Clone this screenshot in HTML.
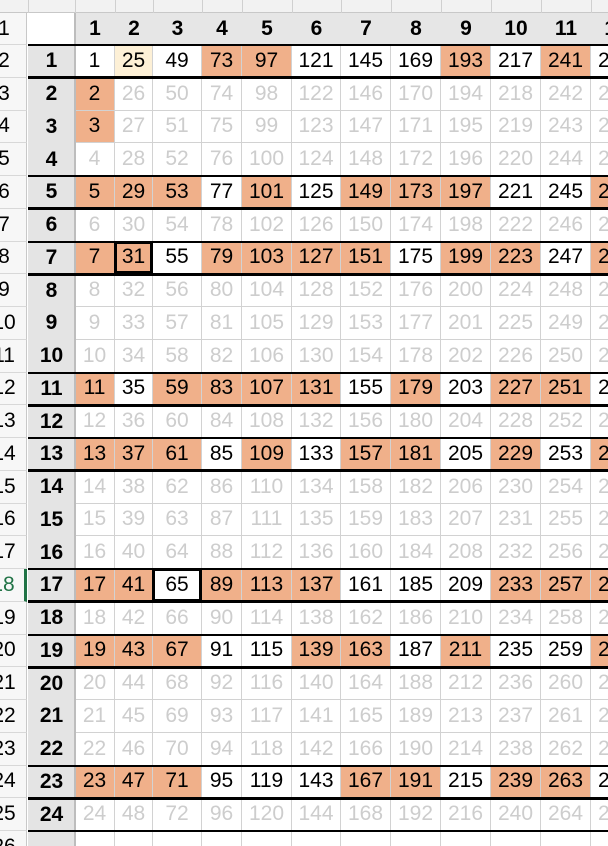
<!DOCTYPE html>
<html><head><meta charset="utf-8"><style>
body{margin:0;width:608px;height:846px;overflow:hidden;background:#fff;font-family:"Liberation Sans",sans-serif}
#sheet{position:relative;width:608px;height:846px;overflow:hidden}
.c{position:absolute;box-sizing:border-box;display:flex;align-items:center;justify-content:center;font-size:21px;white-space:nowrap}
.h{position:absolute;background:#000}
</style></head><body>
<div id="sheet"></div>
<script>
const colLabels=[1,2,3,4,5,6,7,8,9,10,11,12];
const rowLabels=[1,2,3,4,5,6,7,8,9,10,11,12,13,14,15,16,17,18,19,20,21,22,23,24];
const boldRows=[1,5,7,11,13,17,19,23];
const colEdges=[75,115,153,202,242,292,341,391,441,491,541,591,641];
const RH=32.75,TOP=45;
const S=document.getElementById('sheet');
function mk(cls,x,y,w,h,txt,st){const d=document.createElement('div');d.className=cls;d.style.left=x+'px';d.style.top=y+'px';d.style.width=w+'px';d.style.height=h+'px';if(txt!==undefined)d.textContent=txt;if(st)Object.assign(d.style,st);S.appendChild(d);return d;}
function isPrime(n){if(n<2)return false;for(let i=2;i*i<=n;i++)if(n%i==0)return false;return true;}
let strip=mk('c',0,0,608,13,undefined,{background:'#f2f2f2',borderBottom:'1px solid #c8c8c8'});


[28,75].concat(colEdges).forEach(x=>mk('h',x,0,1,13,undefined,{background:'#d0d0d0'}));
for(let r=0;r<=25;r++){const y=r==0?13:TOP+(r-1)*RH;const h=r==0?32:RH;
 const d=mk('c',-18,y,45,h,String(r+1),{background:'#f7f7f7',borderBottom:'1px solid #d8d8d8',color:r==17?'#217346':'#000',borderRight:r==17?'3px solid #217346':'1px solid #c8c8c8'});
 
 }
let a1=mk('c',28,13,47,32,undefined,{background:'#fff'});


colLabels.forEach((c,i)=>{const d=mk('c',colEdges[i],13,colEdges[i+1]-colEdges[i],32,String(c),{background:'#e6e6e6',fontWeight:'bold'});
 
 });
rowLabels.forEach((r,ri)=>{const y=TOP+ri*RH;
 const a=mk('c',28,y,47,RH,String(r),{background:'#e4e4e4',fontWeight:'bold'});
 
 
 const bold=boldRows.includes(r);
 colLabels.forEach((c,ci)=>{const v=r+24*(c-1);let bg='#fff',col='#cdcdcd';
  if(bold)col='#000';
  if(isPrime(v)){bg='#f0b08a';col='#000';}
  if(r==1&&c==2)bg='#fdf0d6';
  const d=mk('c',colEdges[ci],y,colEdges[ci+1]-colEdges[ci],RH,String(v),{background:bg,color:col,borderRight:'1px solid #d2d2d2',borderBottom:'1px solid #d2d2d2'});
  
  
 });
});
colEdges.slice(0,-1).forEach((x,i)=>mk('c',x,TOP+24*RH,colEdges[i+1]-x,RH,undefined,{borderRight:'1px solid #d2d2d2'}));
mk('c',28,TOP+24*RH,47,RH,undefined,{background:'#e4e4e4'});
mk('h',74,13,2,833,undefined,{background:'#bdbdbd'});
mk('h',28,44,580,2);
boldRows.forEach(r=>{const y=TOP+(r-1)*RH;if(r!=1)mk('h',28,y-1,580,2);mk('h',28,y+RH-1.5,580,3);});
mk('h',28,TOP+24*RH-1,580,2);
function box(r,c){const ci=c-1,y=TOP+(r-1)*RH;const d=mk('c',colEdges[ci]-1,y-1,colEdges[ci+1]-colEdges[ci]+1,RH+1,undefined,{border:'3px solid #000'});
 
 }
box(7,2);box(17,3);
</script>
</body></html>
